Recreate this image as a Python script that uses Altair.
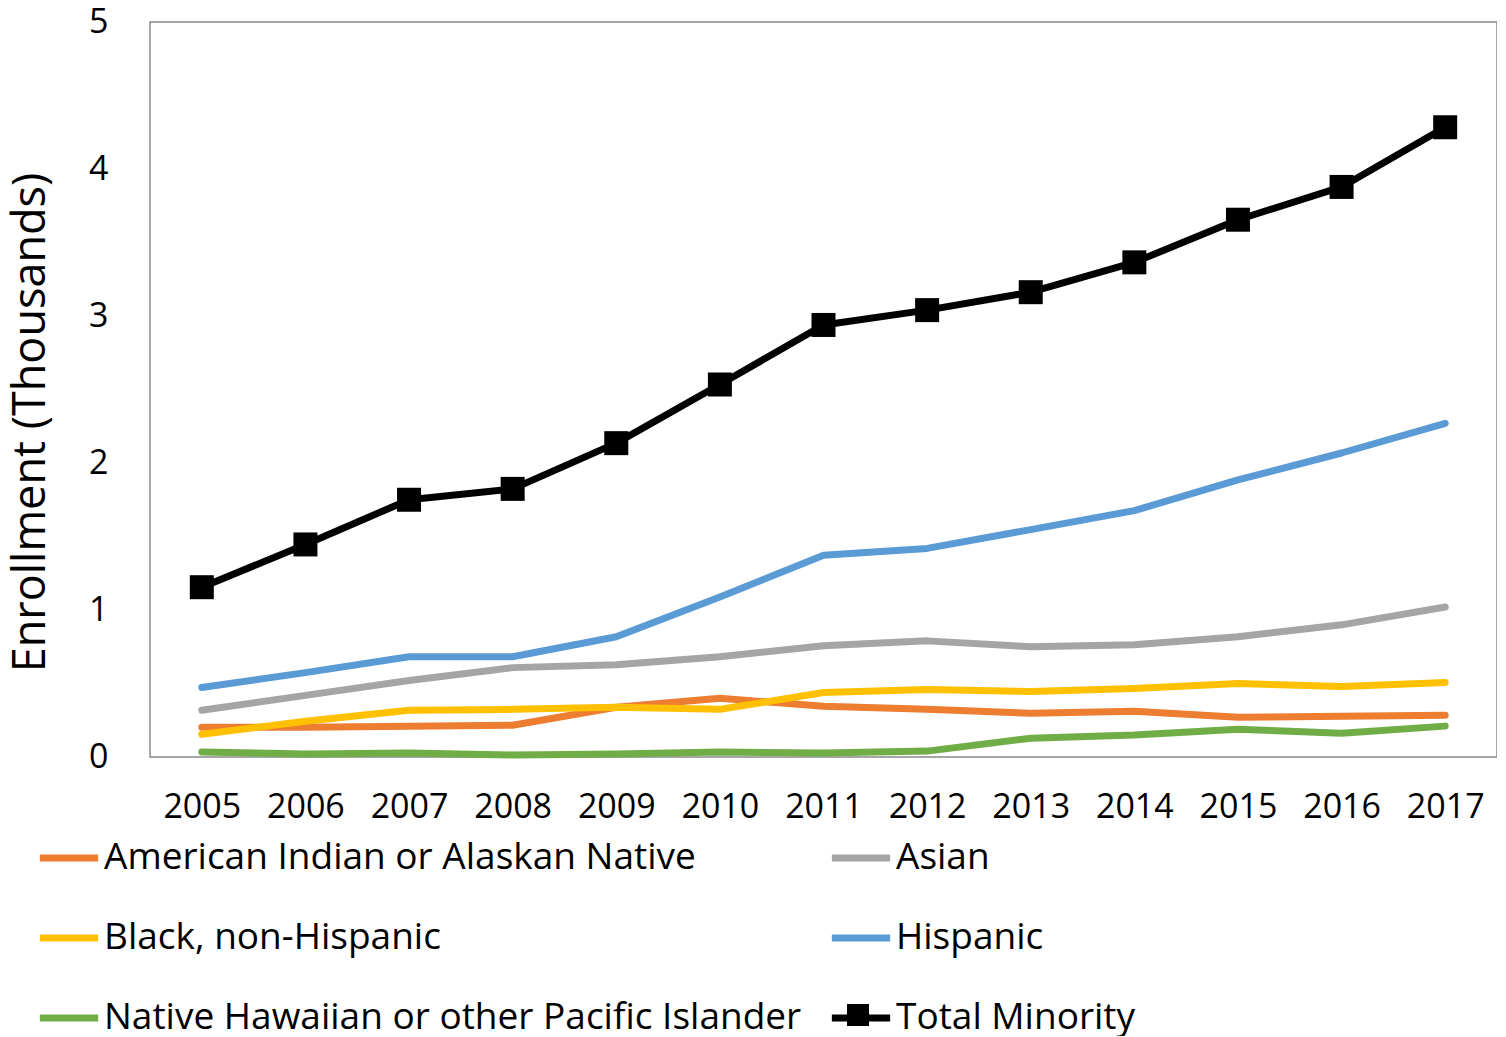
import altair as alt
import pandas as pd

years = [str(y) for y in range(2005, 2018)]
series_names = [
    "American Indian or Alaskan Native",
    "Asian",
    "Black, non-Hispanic",
    "Hispanic",
    "Native Hawaiian or other Pacific Islander",
    "Total Minority",
]
series_colors = ["#ED7D31", "#A5A5A5", "#FFC000", "#5B9BD5", "#70AD47", "#000000"]

aian = [0.203, 0.203, 0.210, 0.216, 0.338, 0.399, 0.345, 0.324, 0.297, 0.311, 0.270, 0.277, 0.284]
asian = [0.318, 0.419, 0.520, 0.608, 0.628, 0.682, 0.757, 0.790, 0.750, 0.764, 0.818, 0.899, 1.020]
black = [0.155, 0.243, 0.318, 0.324, 0.338, 0.324, 0.439, 0.459, 0.446, 0.466, 0.500, 0.480, 0.507]
hispanic = [0.473, 0.574, 0.682, 0.682, 0.818, 1.088, 1.372, 1.419, 1.547, 1.676, 1.885, 2.068, 2.270]
nhpi = [0.034, 0.020, 0.027, 0.014, 0.020, 0.034, 0.027, 0.040, 0.128, 0.149, 0.189, 0.162, 0.210]
total = [1.155, 1.446, 1.750, 1.824, 2.135, 2.534, 2.939, 3.040, 3.162, 3.365, 3.655, 3.878, 4.284]

y_ticks = [0, 1, 2, 3, 4, 5]

all_values = [aian, asian, black, hispanic, nhpi, total]
rows = []
for i, (name, vals) in enumerate(zip(series_names, all_values)):
    for yr, v in zip(years, vals):
        rows.append({"year": yr, "value": v, "series": name, "order": i})
df = pd.DataFrame(rows)

FONT = "Open Sans"

x_enc = alt.X(
    "year:O",
    scale=alt.Scale(type="point", padding=0.5),
    axis=alt.Axis(
        title=None, labelAngle=0, ticks=False, domain=False,
        labelFontSize=34, labelFont=FONT, labelColor="black", labelPadding=33,
    ),
)
y_enc = alt.Y(
    "value:Q",
    scale=alt.Scale(domain=[0, 5], nice=False),
    axis=alt.Axis(
        values=y_ticks, grid=False, ticks=False, domain=False,
        labelFontSize=34, labelFont=FONT, labelColor="black", labelPadding=42,
        title="Enrollment (Thousands)", titleFontSize=45, titleFont=FONT,
        titleFontWeight="normal", titleColor="black", titlePadding=35,
        titleY=400,
    ),
)

base = alt.Chart(df)

lines = base.mark_line(strokeWidth=7, strokeCap="round", strokeJoin="round").encode(
    x=x_enc,
    y=y_enc,
    color=alt.Color(
        "series:N",
        sort=series_names,
        scale=alt.Scale(domain=series_names, range=series_colors),
        legend=alt.Legend(
            title=None, orient="none", legendX=-114, legendY=803,
            direction="horizontal",
            columns=2, symbolType="stroke", symbolStrokeWidth=7, symbolSize=3400,
            labelFontSize=37, labelFont=FONT, labelColor="black", labelLimit=2000,
            labelOffset=2, columnPadding=15, rowPadding=29,
        ),
    ),
    order=alt.Order("order:Q"),
)

squares = base.transform_filter(alt.datum.series == "Total Minority").mark_point(
    size=576, filled=True, color="black", opacity=1
).encode(
    x=x_enc,
    y=y_enc,
    shape=alt.Shape(
        "series:N",
        scale=alt.Scale(range=["square"]),
        legend=alt.Legend(
            title=None, orient="none", legendX=697, legendY=982,
            symbolType="square", symbolSize=484, symbolFillColor="black",
            symbolStrokeColor="black", symbolStrokeWidth=0, labelExpr="''",
        ),
    ),
)

chart = (
    alt.layer(lines, squares)
    .properties(
        width=1347, height=735,
        padding={"top": -3, "left": 0, "right": 0, "bottom": 0},
        background="white",
    )
    .configure_view(stroke="#898989", strokeWidth=1.5)
)

chart.save("out.html", embed_options={"renderer": "svg", "actions": False})
